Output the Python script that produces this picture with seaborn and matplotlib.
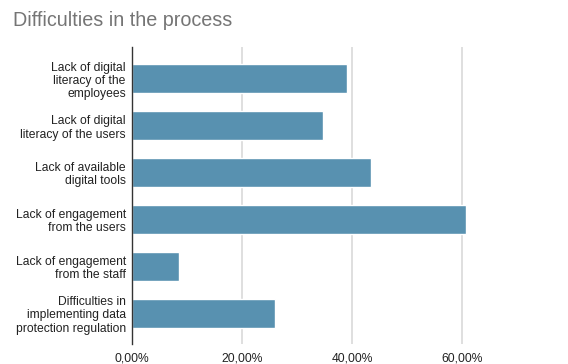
import matplotlib
matplotlib.use("Agg")
import matplotlib.pyplot as plt
import matplotlib.ticker as mticker
import seaborn as sns
import pandas as pd

# ---- data ----
categories = [
    "Lack of digital\nliteracy of the\nemployees",
    "Lack of digital\nliteracy of the users",
    "Lack of available\ndigital tools",
    "Lack of engagement\nfrom the users",
    "Lack of engagement\nfrom the staff",
    "Difficulties in\nimplementing data\nprotection regulation",
]
values = [0.390, 0.347, 0.435, 0.607, 0.086, 0.260]
x_ticks = [0.0, 0.2, 0.4, 0.6]

df = pd.DataFrame({"category": categories, "value": values})

sns.set_theme(style="white")
plt.rcParams["font.family"] = ["Liberation Sans", "DejaVu Sans"]

fig = plt.figure(figsize=(5.68, 3.64), dpi=100)
ax = fig.add_axes([132 / 568, 1 - 344 / 364, (517 - 132) / 568, (344 - 47) / 364])

sns.barplot(data=df, x="value", y="category", color="#5891b0",
            saturation=1, width=0.62, ax=ax)

ax.set_xlim(0, 0.70)
ax.set_ylim(5.66, -0.68)
ax.set_xticks(x_ticks)
ax.xaxis.set_major_formatter(
    mticker.FuncFormatter(lambda v, p: f"{v * 100:.2f}%".replace(".", ",")))
ax.grid(axis="x", color="#d9d9d9", linewidth=1.2)
ax.set_axisbelow(True)
for s in ["top", "right", "bottom"]:
    ax.spines[s].set_visible(False)
ax.spines["left"].set_color("#333333")
ax.spines["left"].set_linewidth(1.0)
ax.tick_params(axis="both", length=0, labelsize=8.7, colors="#222222")
ax.tick_params(axis="y", pad=4.5)
ax.tick_params(axis="x", pad=6)
for lbl in ax.get_yticklabels():
    lbl.set_linespacing(1.15)
ax.set_xlabel("")
ax.set_ylabel("")

fig.text(13 / 568, 1 - 20 / 364, "Difficulties in the process", fontsize=14.2,
         color="#757575", va="center", ha="left")

fig.savefig("out.png", dpi=100)
